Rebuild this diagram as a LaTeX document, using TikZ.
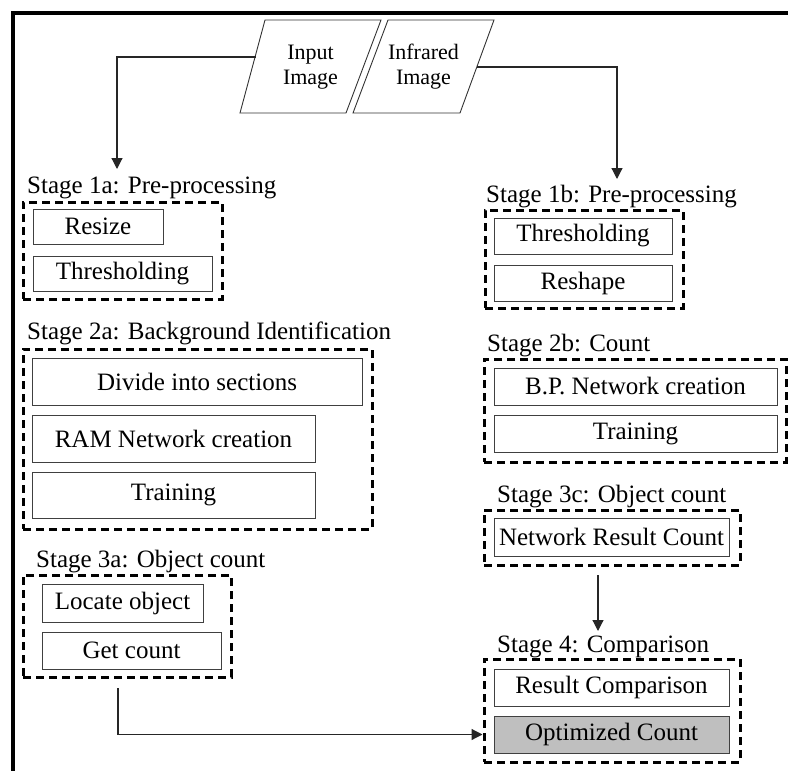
\documentclass[tikz,border=0pt]{standalone}
\usepackage{fontspec}
\setmainfont{Liberation Serif}
\usetikzlibrary{arrows.meta}
\newcommand\fsbig{\fontsize{25}{28}\selectfont}
\newcommand\fspar{\fontsize{22}{25}\selectfont}
\begin{document}
\begin{tikzpicture}[x=1pt,y=-1pt,
  ibox/.style={draw=black!75, line width=0.9pt, inner sep=0pt, font=\fsbig, rectangle},
  optbox/.style={ibox, fill=black!25},
  dbox/.style={draw=black, line width=3pt, dash pattern=on 8pt off 5pt, inner sep=0pt, rectangle},
  lab/.style={anchor=base west, inner sep=0pt, font=\fsbig},
  ptext/.style={align=center, inner sep=0pt, font=\fspar},
  par/.style={draw=black!80, line width=0.9pt, line join=miter},
  arr/.style={line width=1.2pt, draw=black!85, -{Triangle[length=11pt,width=11pt]}},
  border/.style={line width=4pt, line join=miter}]
\useasboundingbox (0,0) rectangle (788,771);
% outer frame
\draw[border] (13,775) -- (13,13) -- (792,13);

% input parallelograms
\coordinate (i1) at (240,113); \coordinate (i2) at (346,113);
\coordinate (i3) at (381,20);  \coordinate (i4) at (265,20);
\draw[par] (i1) -- (i2) -- (i3) -- (i4) -- cycle;
\node[ptext] (inimg) at (310.5,67) {Input\\Image};
\coordinate (j1) at (353,113); \coordinate (j2) at (460,113);
\coordinate (j3) at (494,20);  \coordinate (j4) at (388,20);
\draw[par] (j1) -- (j2) -- (j3) -- (j4) -- cycle;
\node[ptext] (irimg) at (423.5,67) {Infrared\\Image};
\coordinate (inL) at (255.5,57);
\coordinate (irR) at (477,67);
\coordinate (e1a) at (117,169);
\coordinate (e1b) at (617,179);

% Stage 1a
\node[lab] (l1a) at (27,193) {Stage 1a: Pre-processing};
\node[dbox, minimum width=199, minimum height=97] (d1a) at (122.5,250.5) {};
\node[ibox, minimum width=130, minimum height=35] (resize) at (98,226.5) {Resize};
\node[ibox, minimum width=179, minimum height=35] (thr1a) at (122.5,273.5) {Thresholding};

% Stage 1b
\node[lab] (l1b) at (486,202) {Stage 1b: Pre-processing};
\node[dbox, minimum width=198, minimum height=98] (d1b) at (584,259) {};
\node[ibox, minimum width=178, minimum height=36] (thr1b) at (583,236) {Thresholding};
\node[ibox, minimum width=178, minimum height=36] (reshape) at (583,283) {Reshape};

% Stage 2a
\node[lab] (l2a) at (27,339) {Stage 2a: Background Identification};
\node[dbox, minimum width=349, minimum height=180] (d2a) at (197.5,439) {};
\node[ibox, minimum width=330, minimum height=47] (divide) at (197,381.5) {Divide into sections};
\node[ibox, minimum width=283, minimum height=47] (ram) at (173.5,438.5) {RAM Network creation};
\node[ibox, minimum width=283, minimum height=46] (tr2a) at (173.5,495) {Training};

% Stage 2b
\node[lab] (l2b) at (487,351) {Stage 2b: Count};
\node[dbox, minimum width=302, minimum height=103] (d2b) at (635,410.5) {};
\node[ibox, minimum width=283, minimum height=37] (bp) at (635.5,386.5) {B.P. Network creation};
\node[ibox, minimum width=283, minimum height=37] (tr2b) at (635.5,433.5) {Training};

% Stage 3c
\node[lab] (l3c) at (497,502) {Stage 3c: Object count};
\node[dbox, minimum width=256, minimum height=55] (d3c) at (612,537.5) {};
\node[ibox, minimum width=235, minimum height=38] (nrc) at (611.5,537) {Network Result Count};

% Stage 3a
\node[lab] (l3a) at (36,567) {Stage 3a: Object count};
\node[dbox, minimum width=208, minimum height=102] (d3a) at (127,626) {};
\node[ibox, minimum width=161, minimum height=38] (locate) at (122.5,603) {Locate object};
\node[ibox, minimum width=179, minimum height=37] (getc) at (131.5,650.5) {Get count};

% Stage 4
\node[lab] (l4) at (497,652) {Stage 4: Comparison};
\node[dbox, minimum width=256, minimum height=103] (d4) at (612,710.5) {};
\node[ibox, minimum width=235, minimum height=37] (rc) at (611.5,687.5) {Result Comparison};
\node[optbox, minimum width=235, minimum height=37] (opt) at (611.5,734.5) {Optimized Count};

% connectors
\draw[arr] (inL) -| (e1a);
\draw[arr] (irR) -| (e1b);
\coordinate (s3c) at (598,575);
\coordinate (e3c) at (598,631);
\draw[arr] (s3c) -- (e3c);
\coordinate (s3a) at (118,688);
\draw[arr] (s3a) |- (d4.west |- opt.center);
\end{tikzpicture}
\end{document}
